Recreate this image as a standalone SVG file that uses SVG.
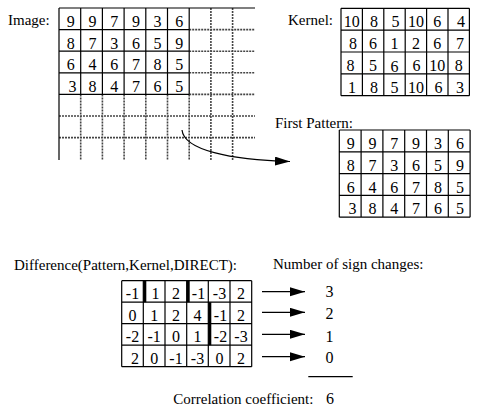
<svg xmlns="http://www.w3.org/2000/svg" width="491" height="416" viewBox="0 0 491 416" font-family="'Liberation Serif', 'Times New Roman', Times, serif">
<style>
text{font-family:'Liberation Serif','Times New Roman',Times,serif}
.lbl{font-size:15px;fill:#000}
.num{font-size:16px;fill:#000;text-anchor:middle}
.s{stroke:#000;stroke-width:1.2;fill:none}
.d{stroke:#444;stroke-width:1.6;stroke-dasharray:2 1;fill:none}
.c{stroke:#000;stroke-width:1.2;fill:none}
</style>
<defs>
<marker id="ah" markerUnits="userSpaceOnUse" markerWidth="16" markerHeight="10" refX="15" refY="4.5" orient="auto">
<path d="M0,0 L15,4.5 L0,9 z" fill="#000"/>
</marker>
</defs>
<rect width="491" height="416" fill="#fff"/>

<g id="image">
<text class="lbl" x="8" y="24.5">Image:</text>
<path class="d" d="M80.7,94.4V160M102.4,94.4V160M124.1,94.4V160M145.8,94.4V160M167.5,94.4V160M189.2,94.4V160M210.9,8V160M232.6,8V160M189.2,29.6H255M189.2,51.2H255M189.2,72.8H255M189.2,94.4H255M59,116H255M59,137.6H255"/>
<path class="s" d="M59,8H255M59,8V160M80.7,8V94.4M102.4,8V94.4M124.1,8V94.4M145.8,8V94.4M167.5,8V94.4M189.2,8V94.4M59,29.6H189.2M59,51.2H189.2M59,72.8H189.2M59,94.4H189.2"/>
<g>
<text class="num" x="70.8" y="27">9</text><text class="num" x="92.5" y="27">9</text><text class="num" x="114.2" y="27">7</text><text class="num" x="135.9" y="27">9</text><text class="num" x="157.6" y="27">3</text><text class="num" x="179.3" y="27">6</text>
<text class="num" x="70.8" y="48.6">8</text><text class="num" x="92.5" y="48.6">7</text><text class="num" x="114.2" y="48.6">3</text><text class="num" x="135.9" y="48.6">6</text><text class="num" x="157.6" y="48.6">5</text><text class="num" x="179.3" y="48.6">9</text>
<text class="num" x="70.8" y="70.2">6</text><text class="num" x="92.5" y="70.2">4</text><text class="num" x="114.2" y="70.2">6</text><text class="num" x="135.9" y="70.2">7</text><text class="num" x="157.6" y="70.2">8</text><text class="num" x="179.3" y="70.2">5</text>
<text class="num" x="72.5" y="91.8">3</text><text class="num" x="92.5" y="91.8">8</text><text class="num" x="114.2" y="91.8">4</text><text class="num" x="135.9" y="91.8">7</text><text class="num" x="157.6" y="91.8">6</text><text class="num" x="179.3" y="91.8">5</text>
</g>
</g>

<g id="kernel">
<text class="lbl" x="288" y="24.5">Kernel:</text>
<path class="s" d="M341,8.3H469.4M341,30.1H469.4M341,52H469.4M341,73.8H469.4M341,95.7H469.4M341,8.3V95.7M362.4,8.3V95.7M383.8,8.3V95.7M405.2,8.3V95.7M426.6,8.3V95.7M448,8.3V95.7M469.4,8.3V95.7"/>
<text class="num" x="351.7" y="27">10</text><text class="num" x="374" y="27">8</text><text class="num" x="395.5" y="27">5</text><text class="num" x="415.9" y="27">10</text><text class="num" x="437.3" y="27">6</text><text class="num" x="461" y="27">4</text>
<text class="num" x="353" y="49">8</text><text class="num" x="373.1" y="49">6</text><text class="num" x="394.5" y="49">1</text><text class="num" x="415.9" y="49">2</text><text class="num" x="437.3" y="49">6</text><text class="num" x="460" y="49">7</text>
<text class="num" x="350.5" y="70.5">8</text><text class="num" x="373.1" y="70.5">5</text><text class="num" x="394.5" y="72">6</text><text class="num" x="416.5" y="70.5">6</text><text class="num" x="437.3" y="70.5">10</text><text class="num" x="458.7" y="70.5">8</text>
<text class="num" x="352" y="92.5">1</text><text class="num" x="374" y="92.5">8</text><text class="num" x="394.5" y="92.5">5</text><text class="num" x="415.9" y="92.5">10</text><text class="num" x="438.5" y="92.5">6</text><text class="num" x="460" y="92.5">3</text>
</g>

<g id="pattern">
<text class="lbl" x="275" y="127.5">First Pattern:</text>
<path class="s" d="M339.3,130H470.1M339.3,151.8H470.1M339.3,173.6H470.1M339.3,195.4H470.1M339.3,217.2H470.1M339.3,130V217.2M361.1,130V217.2M382.9,130V217.2M404.7,130V217.2M426.5,130V217.2M448.3,130V217.2M470.1,130V217.2"/>
<text class="num" x="350.7" y="149">9</text><text class="num" x="372.5" y="149">9</text><text class="num" x="394.3" y="149">7</text><text class="num" x="416.1" y="149">9</text><text class="num" x="437.9" y="149">3</text><text class="num" x="460" y="149">6</text>
<text class="num" x="350.7" y="170.8">8</text><text class="num" x="372.5" y="170.8">7</text><text class="num" x="394.3" y="170.8">3</text><text class="num" x="416.1" y="170.8">6</text><text class="num" x="437.9" y="170.8">5</text><text class="num" x="460" y="170.8">9</text>
<text class="num" x="350.7" y="192.6">6</text><text class="num" x="372.5" y="192.6">4</text><text class="num" x="394.3" y="192.6">6</text><text class="num" x="416.1" y="192.6">7</text><text class="num" x="437.9" y="192.6">8</text><text class="num" x="460" y="192.6">5</text>
<text class="num" x="352.5" y="214.4">3</text><text class="num" x="372.5" y="214.4">8</text><text class="num" x="394.3" y="214.4">4</text><text class="num" x="416.1" y="214.4">7</text><text class="num" x="437.9" y="214.4">6</text><text class="num" x="460" y="214.4">5</text>
</g>

<g id="difference">
<text class="lbl" x="14" y="269.5">Difference(Pattern,Kernel,DIRECT):</text>
<path class="s" d="M121.7,280.7H251.7M121.7,302.2H251.7M121.7,323.7H251.7M121.7,345.2H251.7M121.7,366.7H251.7M121.7,280.7V366.7M143.3,280.7V366.7M165,280.7V366.7M186.7,280.7V366.7M208.3,280.7V366.7M230,280.7V366.7M251.7,280.7V366.7"/>
<rect x="143.3" y="280.7" width="3" height="21.5" fill="#000"/>
<rect x="186.7" y="280.7" width="3" height="21.5" fill="#000"/>
<rect x="208.3" y="302.2" width="3" height="43" fill="#000"/>
<text class="num" x="132.5" y="299">-1</text><text class="num" x="155.5" y="299">1</text><text class="num" x="176" y="299">2</text><text class="num" x="198.5" y="299">-1</text><text class="num" x="219.5" y="299">-3</text><text class="num" x="241" y="299">2</text>
<text class="num" x="132.5" y="320.5">0</text><text class="num" x="154.2" y="320.5">1</text><text class="num" x="176" y="320.5">2</text><text class="num" x="197.5" y="320.5">4</text><text class="num" x="220.5" y="320.5">-1</text><text class="num" x="241" y="320.5">2</text>
<text class="num" x="132.5" y="342">-2</text><text class="num" x="154.2" y="342">-1</text><text class="num" x="176" y="342">0</text><text class="num" x="197.5" y="342">1</text><text class="num" x="220.5" y="342">-2</text><text class="num" x="241" y="342">-3</text>
<text class="num" x="135" y="363.5">2</text><text class="num" x="154.2" y="363.5">0</text><text class="num" x="176" y="363.5">-1</text><text class="num" x="197.5" y="363.5">-3</text><text class="num" x="219.5" y="363.5">0</text><text class="num" x="241" y="363.5">2</text>
</g>

<g id="signs">
<text class="lbl" x="273" y="268.5">Number of sign changes:</text>
<text class="num" x="329.5" y="297">3</text>
<text class="num" x="329.5" y="319">2</text>
<text class="num" x="329.5" y="341.5">1</text>
<text class="num" x="329.5" y="363">0</text>
<line x1="308.3" y1="376.7" x2="352.7" y2="376.7" stroke="#000" stroke-width="1.2"/>
</g>

<g id="correlation">
<text class="lbl" x="173.3" y="404">Correlation coefficient:</text>
<text class="num" x="330" y="404">6</text>
</g>

<g id="connectors">
<path class="c" d="M182,130 C184,150 230,160 290,161.5" stroke-width="1.5" marker-end="url(#ah)"/>
<line class="c" x1="262" y1="291.7" x2="305" y2="291.7" marker-end="url(#ah)"/>
<line class="c" x1="262" y1="312.3" x2="305" y2="312.3" marker-end="url(#ah)"/>
<line class="c" x1="262" y1="334.3" x2="305" y2="334.3" marker-end="url(#ah)"/>
<line class="c" x1="262" y1="356.7" x2="305" y2="356.7" marker-end="url(#ah)"/>
</g>
</svg>
